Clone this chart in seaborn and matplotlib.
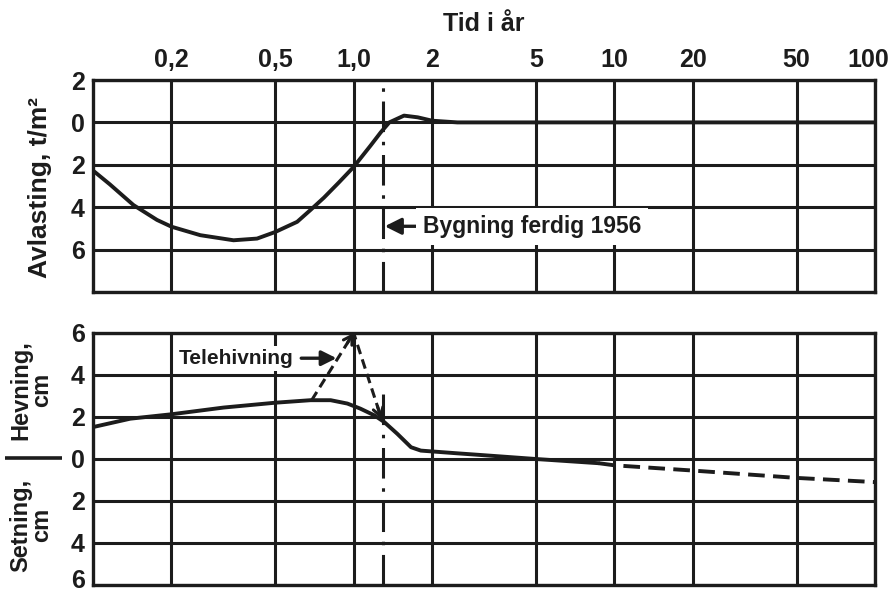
import numpy as np
import pandas as pd
import matplotlib
matplotlib.use("Agg")
import matplotlib.pyplot as plt
from matplotlib.transforms import ScaledTranslation
import seaborn as sns

# ---------------- data ----------------
x_ticks = [0.2, 0.5, 1.0, 2, 5, 10, 20, 50, 100]
x_tick_labels = ["0,2", "0,5", "1,0", "2", "5", "10", "20", "50", "100"]

# top panel: unloading (Avlasting, t/m2), positive = downward
unload_years = [0.1, 0.116, 0.143, 0.176, 0.2, 0.258, 0.346, 0.426, 0.5, 0.607,
                0.683, 0.769, 0.878, 1.0, 1.16, 1.27, 1.37, 1.56, 1.76, 2.0,
                2.5, 5, 10, 20, 50, 100]
unload_t_m2 = [2.27, 2.92, 3.9, 4.6, 4.92, 5.32, 5.56, 5.48, 5.17, 4.69,
               4.13, 3.55, 2.83, 2.1, 1.1, 0.47, 0.0, -0.32, -0.24, -0.08,
               0.0, 0.0, 0.0, 0.0, 0.0, 0.0]

# bottom panel: heave (+) / settlement (-), cm
heave_years = [0.1, 0.139, 0.2, 0.317, 0.5, 0.683, 0.816, 0.946, 1.06, 1.2,
               1.31, 1.47, 1.66, 1.81, 2.5, 3.0, 5.0, 8.7]
heave_cm = [1.52, 1.92, 2.13, 2.45, 2.68, 2.8, 2.8, 2.64, 2.4, 2.08,
            1.76, 1.2, 0.56, 0.4, 0.27, 0.2, 0.0, -0.2]

forecast_years = [8.7, 10, 20, 50, 100]
forecast_cm = [-0.2, -0.3, -0.55, -0.9, -1.1]

frost_years = [0.69, 1.0, 1.28]
frost_cm = [2.8, 6.0, 1.9]

completion_year = 1.3
frost_label_y = 4.8
building_label_y = 4.9

top_yticks = [-2, 0, 2, 4, 6, 8]
top_ylabels = ["2", "0", "2", "4", "6", ""]
bot_yticks = [-6, -4, -2, 0, 2, 4, 6]
bot_ylabels = ["6", "4", "2", "0", "2", "4", "6"]

# ---------------- style ----------------
sns.set_theme(style="white")
plt.rcParams["font.family"] = ["Liberation Sans", "DejaVu Sans"]
plt.rcParams["font.weight"] = "bold"
plt.rcParams["lines.scale_dashes"] = False
INK = "#1c1c1c"
FS = 18

W, H = 890, 592
fig = plt.figure(figsize=(W / 100, H / 100), dpi=100)
fig.patch.set_facecolor("white")
L, R = 93, 875
ax1 = fig.add_axes([L / W, 1 - 292 / H, (R - L) / W, (292 - 80) / H])
ax2 = fig.add_axes([L / W, 1 - 585 / H, (R - L) / W, (585 - 333) / H])

for ax in (ax1, ax2):
    ax.set_facecolor("white")
    ax.set_xscale("log")
    ax.set_xlim(0.1, 100)
    ax.set_xticks(x_ticks)
    ax.xaxis.set_minor_locator(matplotlib.ticker.NullLocator())
    ax.set_axisbelow(True)
    ax.grid(True, color=INK, lw=2.2)
    for s in ax.spines.values():
        s.set_color(INK)
        s.set_linewidth(2.4)
        s.set_visible(True)
    ax.tick_params(axis="both", length=0, labelsize=FS, colors=INK, pad=6)

ax1.set_ylim(8, -2)
ax1.set_yticks(top_yticks)
ax1.set_yticklabels(top_ylabels, fontweight="bold")
ax1.xaxis.tick_top()
ax1.set_xticklabels(x_tick_labels, fontweight="bold")

ax2.set_ylim(-6, 6)
ax2.set_yticks(bot_yticks)
ax2.set_yticklabels(bot_ylabels, fontweight="bold")
ax2.set_xticklabels([])

# ---------------- curves ----------------
df_unload = pd.DataFrame({"year": unload_years, "val": unload_t_m2})
sns.lineplot(data=df_unload, x="year", y="val", ax=ax1, color=INK, lw=2.8,
             estimator=None, sort=False)

df_heave = pd.DataFrame({"year": heave_years, "val": heave_cm})
sns.lineplot(data=df_heave, x="year", y="val", ax=ax2, color=INK, lw=2.8,
             estimator=None, sort=False)

df_fc = pd.DataFrame({"year": forecast_years, "val": forecast_cm})
sns.lineplot(data=df_fc, x="year", y="val", ax=ax2, color=INK, lw=2.8,
             estimator=None, sort=False, linestyle=(0, (12, 6)))

df_frost = pd.DataFrame({"year": frost_years, "val": frost_cm})
sns.lineplot(data=df_frost, x="year", y="val", ax=ax2, color=INK, lw=2.2,
             estimator=None, sort=False, linestyle=(0, (7, 4)))

for ax in (ax1, ax2):
    ax.set_ylabel("")
ax2.set_xlabel("")
ax1.xaxis.set_label_position("top")
ax1.set_xlabel("Tid i år", fontsize=FS, fontweight="bold", color=INK, labelpad=12)

# nudge edge tick labels like the reference
fig.canvas.draw()
lab = ax1.get_xticklabels()[-1]
lab.set_transform(lab.get_transform() + ScaledTranslation(-7 / 100, 0, fig.dpi_scale_trans))
lab = ax2.get_yticklabels()[0]
lab.set_transform(lab.get_transform() + ScaledTranslation(0, 6 / 100, fig.dpi_scale_trans))


def along(i, j, frac):
    lx0, lx1 = np.log10(frost_years[i]), np.log10(frost_years[j])
    return (10 ** (lx0 + frac * (lx1 - lx0)),
            frost_cm[i] + frac * (frost_cm[j] - frost_cm[i]))


# arrowheads on frost-heave line
for (i, j) in [(0, 1), (1, 2)]:
    ax2.annotate("", xy=(frost_years[j], frost_cm[j]), xytext=along(i, j, 0.85),
                 arrowprops=dict(arrowstyle="->,head_length=0.5,head_width=0.3",
                                 color=INK, lw=2.2, shrinkA=0, shrinkB=0))

# building completion line
dd = (0, (22, 7, 2.5, 7))
ax1.axvline(completion_year, ymin=0, ymax=0.967, color=INK, lw=2.2, linestyle=dd)
ax2.axvline(completion_year, ymin=0, ymax=(3.5 + 6) / 12, color=INK, lw=2.2, linestyle=dd)

ax1.annotate("Bygning ferdig 1956", xy=(completion_year, building_label_y),
             xytext=(1.84, building_label_y), ha="left", va="center",
             fontsize=16.5, fontweight="bold", color=INK,
             bbox=dict(boxstyle="square,pad=0.3", fc="white", ec="none"),
             arrowprops=dict(arrowstyle="-|>,head_length=0.6,head_width=0.3",
                             color=INK, lw=2.4, shrinkA=0, shrinkB=1))

frac = (frost_label_y - frost_cm[0]) / (frost_cm[1] - frost_cm[0])
fx, fy = along(0, 1, frac)
ax2.annotate("Telehivning", xy=(fx, fy), xytext=(0.59, frost_label_y),
             ha="right", va="center", fontsize=15, fontweight="bold", color=INK,
             bbox=dict(boxstyle="square,pad=0.15", fc="white", ec="none"),
             arrowprops=dict(arrowstyle="-|>,head_length=0.6,head_width=0.3",
                             color=INK, lw=2.4, shrinkA=3, shrinkB=1))

# ---------------- side labels ----------------
fig.text(40 / W, 1 - 188 / H, "Avlasting, t/m²", rotation=90, ha="center",
         va="center", fontsize=19, fontweight="bold", color=INK)
fig.text(31 / W, 1 - 390 / H, "Hevning,\ncm", rotation=90, ha="center",
         va="center", fontsize=17, fontweight="bold", color=INK,
         multialignment="center", linespacing=0.9)
fig.text(31 / W, 1 - 525 / H, "Setning,\ncm", rotation=90, ha="center",
         va="center", fontsize=17, fontweight="bold", color=INK,
         multialignment="center", linespacing=0.9)
y0 = 1 - 458 / H
ax2.plot([5 / W, 62 / W], [y0, y0], transform=fig.transFigure, clip_on=False,
         color=INK, lw=2.6, solid_capstyle="butt")

fig.savefig("out.png", dpi=100, facecolor="white")
